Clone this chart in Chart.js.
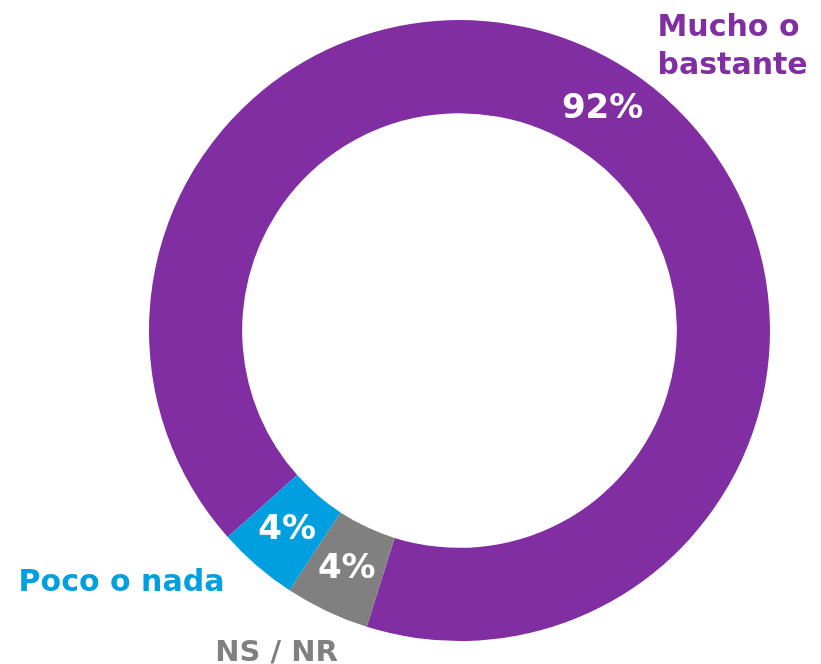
<!DOCTYPE html>
<html>
<head>
<meta charset="utf-8">
<style>
  html, body { margin: 0; padding: 0; background: #fff; }
  #wrap { width: 821px; height: 664px; }
</style>
</head>
<body>
<div id="wrap"><canvas id="dona" width="821" height="664"></canvas></div>

<script src="https://cdn.jsdelivr.net/npm/chart.js"></script>
<script>
// clockwise from the start angle
const categorias = ['Mucho o bastante', 'NS / NR', 'Poco o nada'];
const valores = [91.5, 4.4, 4.2];
const colores = ['#812ea3', '#808080', '#00a0e0'];

const FUENTE = '"DejaVu Sans", sans-serif';

// etiquetas de porcentaje en el centro de cada sector + nombres fuera del anillo
const etiquetas = {
  id: 'etiquetas',
  afterDatasetsDraw(chart) {
    const ctx = chart.ctx;
    const arcs = chart.getDatasetMeta(0).data;
    ctx.save();
    ctx.textAlign = 'center';
    ctx.textBaseline = 'middle';
    ctx.fillStyle = '#ffffff';
    ctx.font = 'bold 34px ' + FUENTE;
    arcs.forEach((arc, i) => {
      const p = arc.tooltipPosition();
      ctx.fillText(Math.round(valores[i]) + '%', p.x, p.y);
    });

    const cx = arcs[0].x, cy = arcs[0].y;
    ctx.font = 'bold 30px ' + FUENTE;
    ctx.textBaseline = 'alphabetic';

    ctx.fillStyle = colores[0];
    ctx.textAlign = 'left';
    ctx.fillText('Mucho o', cx + 198, cy - 295);
    ctx.fillText('bastante', cx + 198, cy - 257);

    ctx.textAlign = 'center';
    ctx.fillStyle = colores[2];
    ctx.fillText(categorias[2], cx - 338, cy + 260);

    ctx.fillStyle = colores[1];
    ctx.font = 'bold 29px ' + FUENTE;
    ctx.fillText(categorias[1], cx - 183, cy + 330);
    ctx.restore();
  }
};

new Chart(document.getElementById('dona'), {
  type: 'doughnut',
  data: {
    labels: categorias,
    datasets: [{
      data: valores,
      backgroundColor: colores,
      borderWidth: 0,
      hoverBorderWidth: 0,
      hoverOffset: 0
    }]
  },
  options: {
    responsive: false,
    animation: false,
    cutout: '70%',
    rotation: 228.3,
    layout: { padding: { left: 149, right: 51, top: 20, bottom: 23 } },
    plugins: {
      legend: { display: false },
      tooltip: { enabled: false }
    },
    events: []
  },
  plugins: [etiquetas]
});
</script>
</body>
</html>
